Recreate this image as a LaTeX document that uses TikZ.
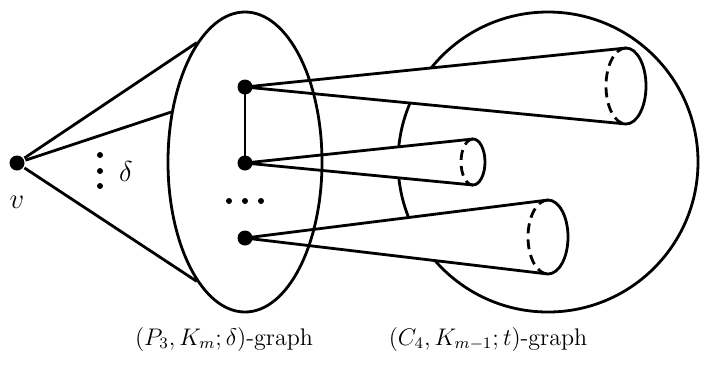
\documentclass[tikz,border=0pt]{standalone}
\usepackage{amsmath,amssymb}
\usetikzlibrary{shapes.geometric,calc}

\begin{document}
\begin{tikzpicture}[
  x=0.5pt, y=0.5pt, line width=1.4pt, line join=round, font=\large,
  vtx/.style={circle,fill=black,inner sep=0pt,minimum size=7.5pt},
  smalldot/.style={circle,fill=black,inner sep=0pt,minimum size=3pt},
]
\useasboundingbox (0,0) rectangle (701,-366);
% --- the two host sets ---
\node[draw,circle,minimum size=150pt,inner sep=0pt] (C) at (548,-162) {};
% --- vertices of the P3 part ---
\coordinate (a) at (245,-87);
\coordinate (b) at (245,-163);
\coordinate (c) at (245,-238);
% --- cones into the C4 part ---
\foreach \s/\cx/\cy/\rx/\ry [count=\i] in {a/626/86/20/38, b/473/162/12/23, c/548/237/20/37} {
  \coordinate (e\i) at (\cx,-\cy);
  \filldraw[fill=white] (\s) -- ($(e\i)+(0,\ry)$)
    arc[start angle=90,end angle=-90,x radius=\rx,y radius=\ry] -- cycle;
  \draw[dash pattern=on 5pt off 3pt] ($(e\i)+(0,\ry)$)
    arc[start angle=90,end angle=270,x radius=\rx,y radius=\ry];
}
\node[draw,ellipse,minimum width=77pt,minimum height=150pt,inner sep=0pt] (P) at (245,-162) {};
% --- v and its delta neighbours ---
\node[vtx] (v) at (17,-163) {};
\node[font=\Large] (vl) at (17,-202) {$v$};
\draw (v) -- (P.112);
\draw (v) -- (P.146);
\draw (v) -- (P.248);
\foreach \y in {155,171,186} \node[smalldot] at (100,-\y) {};
\node[font=\Large] (dl) at (126,-171) {$\delta$};
% --- P3 vertices ---
\draw (a) -- (b);
\node[vtx] at (a) {};
\node[vtx] at (b) {};
\node[vtx] at (c) {};
\foreach \x in {229,245,261} \node[smalldot] at (\x,-201) {};
% --- captions ---
\node (lp) at (224,-339) {$(P_3,K_m;\delta)$-graph};
\node (lc) at (488,-339) {$(C_4,K_{m-1};t)$-graph};
\end{tikzpicture}
\end{document}
